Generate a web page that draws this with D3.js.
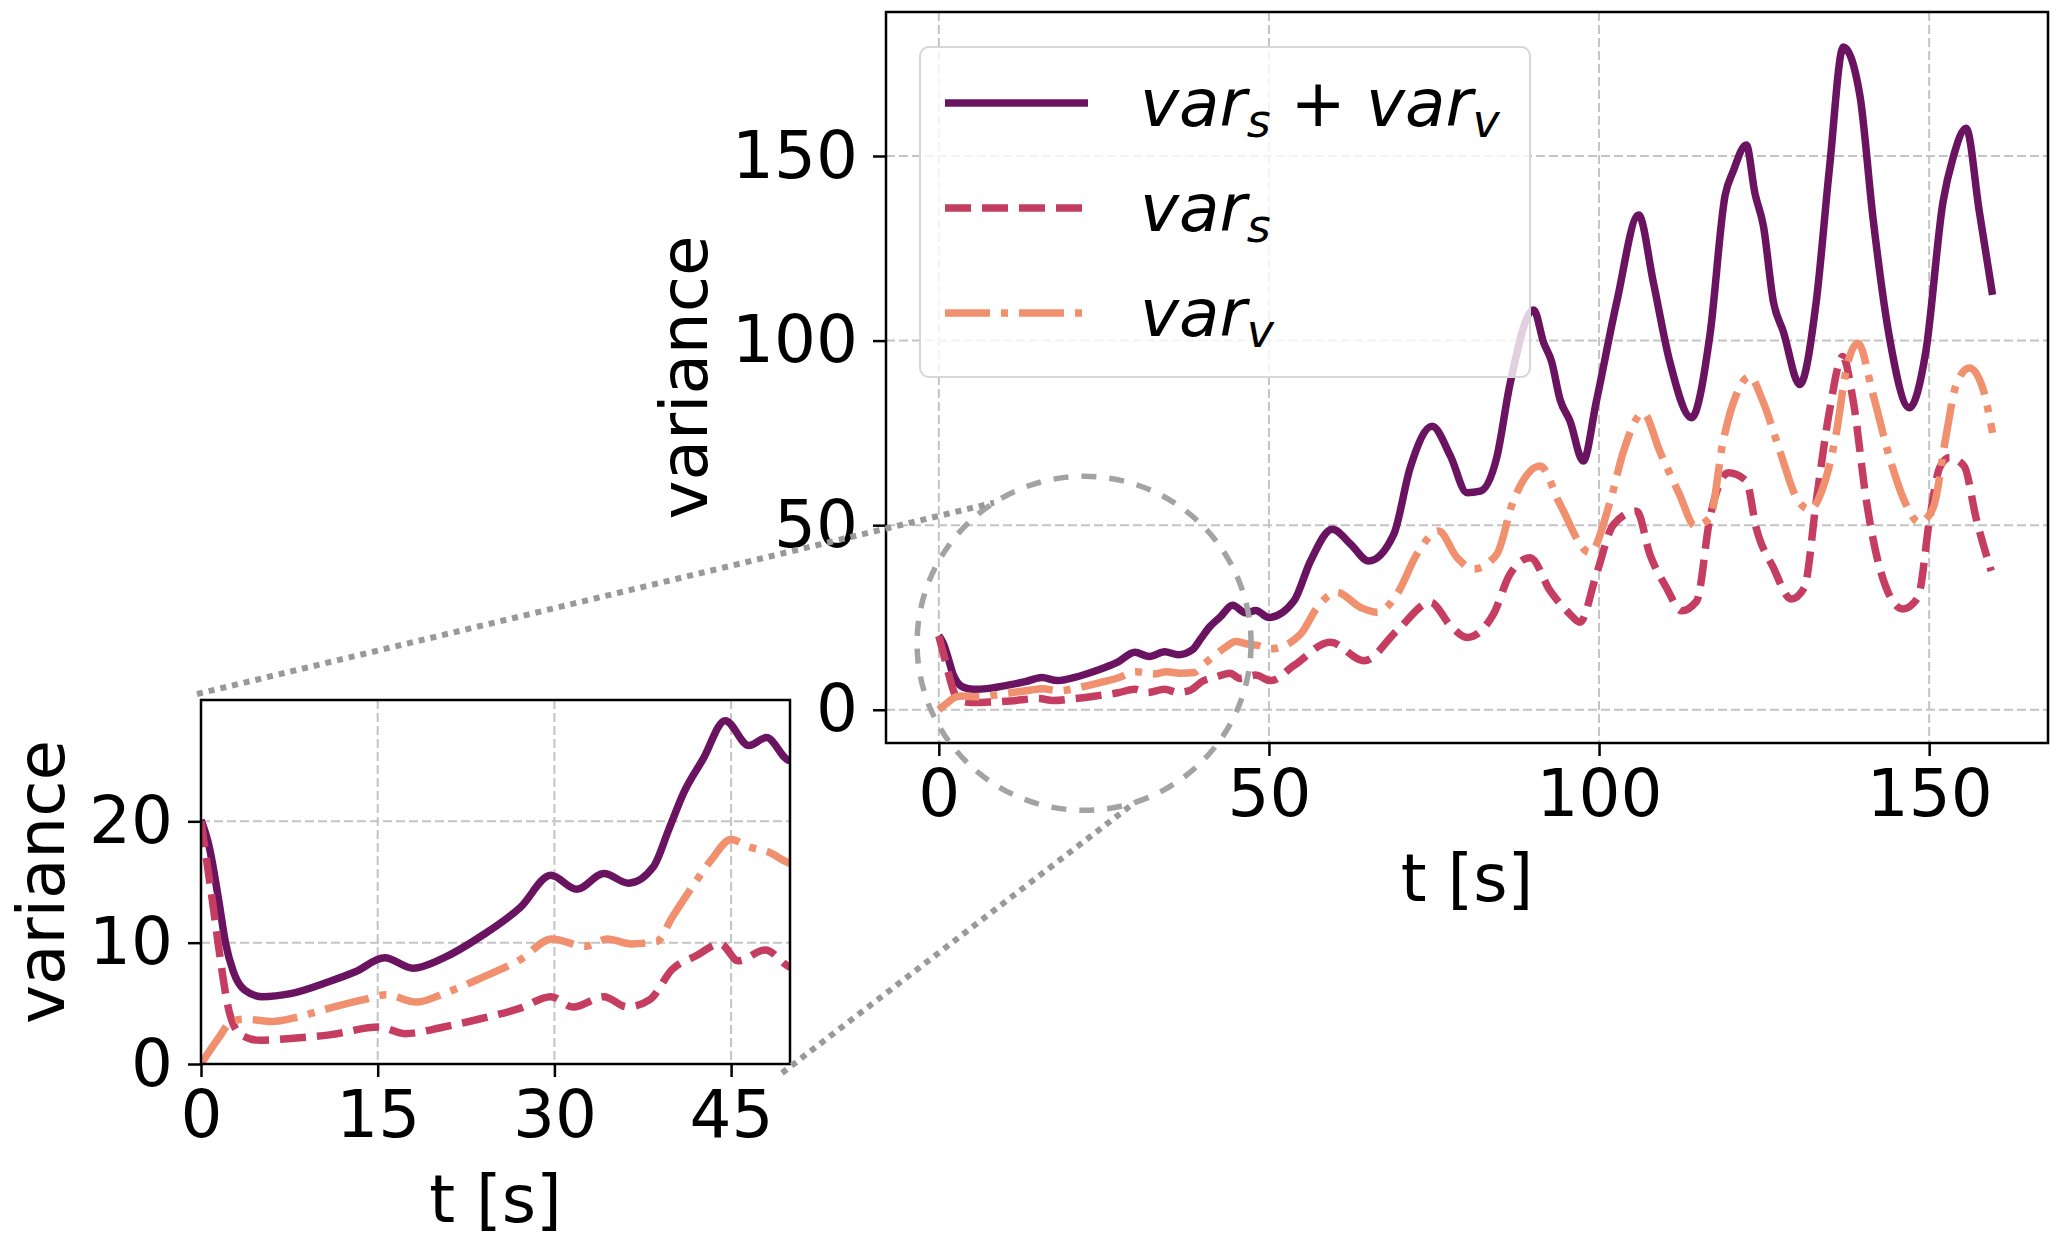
<!DOCTYPE html>
<html>
<head>
<meta charset="utf-8">
<script src="https://cdn.jsdelivr.net/npm/d3@7"></script>
<style>
  body { margin: 0; background: #fff; }
  svg { display: block; font-family: "DejaVu Sans", sans-serif; }
</style>
</head>
<body>
<div id="chart"></div>
<script>
// values
const tTotal = [0, 0.7, 1.46, 2.1, 2.75, 3.7, 5.2, 7.6, 10.9, 13.1, 15.6, 18, 20.6, 23.8, 27.1, 29.7, 31.9, 34.2, 36.3, 38.4, 39.7, 41, 42.6, 44.5, 46.5, 48, 50, 53.8, 56.3, 59.6, 62.4, 65.1, 68.9, 71.4, 74.7, 77.5, 80, 82, 84.5, 86.5, 90.1, 91.6, 92.8, 94.1, 95.6, 97.6, 99.6, 102.7, 106, 108.2, 110.7, 114, 116.8, 119.1, 120.3, 122.3, 123.6, 124.9, 126.4, 127.9, 130.4, 132.9, 134.9, 137, 139.5, 141.5, 144, 147, 149.5, 152.1, 153.6, 155.6, 157.6, 159.6];
const varTotal = [20.1, 17.9, 13.75, 9.9, 7.6, 6.1, 5.55, 5.8, 6.8, 7.6, 8.75, 7.9, 8.75, 10.55, 12.9, 15.55, 14.4, 15.7, 14.9, 16.25, 19.3, 22.4, 25.1, 28.3, 26.25, 26.9, 25.0, 29.5, 40.3, 48.9, 44.8, 40.3, 47.5, 65.6, 76.8, 68.7, 58.8, 59.2, 68.3, 88.1, 108.3, 99.5, 94.4, 84, 78.2, 67.4, 83.6, 110.6, 134, 116, 94.4, 79.1, 101.6, 139.4, 145.8, 153, 140, 131, 110.6, 102.5, 88.1, 110.6, 146.7, 179.5, 166.5, 133.1, 100.7, 81.8, 97.1, 137.6, 149.4, 157.5, 134.9, 112.4];

const tS = [0, 1.1, 1.46, 2.4, 3.4, 5, 7.6, 10.9, 15.1, 17.3, 20.6, 23.8, 27.1, 29.7, 31.6, 34.2, 36.2, 38.1, 40, 42, 44.1, 45.6, 47.9, 50.3, 53.8, 59.3, 64.4, 69.4, 74.5, 77.5, 80, 84, 86.5, 89.6, 92.6, 95.6, 97.1, 99.6, 102.2, 105.7, 107.7, 110.2, 112.5, 114.8, 116.8, 119.6, 122.3, 123.8, 126.4, 129.1, 131.1, 132.9, 134.9, 136.9, 138.5, 140.5, 142.5, 146, 148.3, 150.1, 151.6, 153.1, 155.3, 157.1, 159.4];
const varS = [20, 12.5, 9.9, 4.3, 2.4, 1.95, 2.1, 2.4, 3.05, 2.5, 3.05, 3.75, 4.6, 5.55, 4.7, 5.55, 4.7, 5.3, 7.8, 8.9, 9.9, 8.5, 9.4, 7.9, 12, 18.3, 13.3, 21.4, 29.1, 22.8, 19.6, 25.9, 36.7, 41.2, 32.2, 25.9, 23.7, 36.7, 50.2, 53.8, 42.1, 33.1, 26.8, 29.5, 52, 64.2, 62, 49.3, 38.5, 30, 33.1, 56.5, 80.9, 95.7, 83.6, 56.5, 38.5, 27.3, 30.4, 52, 65.6, 68.3, 66, 52, 37.6];

const tV = [0, 1.46, 2.6, 3.7, 6, 8.3, 10.9, 13.8, 15.7, 18.3, 20.6, 23.8, 27.1, 29.8, 32.6, 34.5, 36.5, 38.7, 40, 41.7, 43.3, 45, 46.5, 48.1, 50.3, 54.8, 57.3, 60.3, 63.9, 66.4, 69.4, 72.4, 75.7, 78.5, 81, 84.5, 87, 91.1, 94.1, 98.6, 101.7, 103.7, 106.7, 109.2, 112.2, 114.5, 116.8, 118.8, 120.8, 122.8, 124.8, 127.4, 129.9, 131.9, 133.9, 135.9, 137.5, 139.2, 141.5, 144, 146.5, 148.5, 150.6, 152.6, 154.1, 156.1, 158.1, 159.6];
const varV = [0, 2.1, 3.5, 3.7, 3.5, 3.9, 4.6, 5.3, 5.7, 5.1, 5.8, 7.1, 8.6, 10.3, 9.7, 10.3, 9.9, 10.1, 12.1, 14.6, 16.8, 18.5, 17.9, 17.5, 16.5, 20.5, 27.7, 31.8, 27.7, 26.4, 31.3, 42.1, 48.4, 41.2, 38.1, 42.1, 56.5, 66, 55.6, 42.6, 56.5, 70, 80.4, 70, 58.3, 49.8, 52.0, 72.8, 85.4, 90.3, 83.6, 70, 57.4, 54.3, 60.1, 74.6, 92.6, 99.3, 85.4, 68.3, 55.6, 50.7, 54.7, 74.6, 88.1, 92.6, 87.2, 75];

const mainXTicks = [0, 50, 100, 150];
const mainYTicks = [0, 50, 100, 150];
const insetXTicks = [0, 15, 30, 45];
const insetYTicks = [0, 10, 20];

// legend labels: [base, subscript] terms joined with "+"
const legendLabels = [[["var", "s"], ["var", "v"]], [["var", "s"]], [["var", "v"]]];
const seriesColors = ["#6a1461", "#c53d61", "#f0906e"];
const seriesDashes = [null, "26,11", "45,11,7,11"];

const width = 2063;
const height = 1245;
const fs = 66;

const series = [
    d3.zip(tTotal, varTotal),
    d3.zip(tS, varS),
    d3.zip(tV, varV)
];

const svg = d3.select("#chart")
    .append("svg")
    .attr("width", width)
    .attr("height", height);

const defs = svg.append("defs");

function drawPanel(box, xDomain, yDomain, xTicks, yTicks, yLabelX, id) {
    const x = d3.scaleLinear().domain(xDomain).range([box.left, box.right]);
    const y = d3.scaleLinear().domain(yDomain).range([box.bottom, box.top]);

    defs.append("clipPath").attr("id", id)
        .append("rect")
        .attr("x", box.left).attr("y", box.top)
        .attr("width", box.right - box.left)
        .attr("height", box.bottom - box.top);

    const g = svg.append("g");

    g.append("rect")
        .attr("x", box.left).attr("y", box.top)
        .attr("width", box.right - box.left)
        .attr("height", box.bottom - box.top)
        .attr("fill", "#fff");

    // GRID
    const grid = g.append("g")
        .attr("stroke", "#c4c4c4")
        .attr("stroke-width", 2)
        .attr("stroke-dasharray", "9,4");
    grid.selectAll(".gx").data(xTicks).enter().append("line")
        .attr("x1", d => x(d)).attr("x2", d => x(d))
        .attr("y1", box.top).attr("y2", box.bottom);
    grid.selectAll(".gy").data(yTicks).enter().append("line")
        .attr("x1", box.left).attr("x2", box.right)
        .attr("y1", d => y(d)).attr("y2", d => y(d));

    // LINES
    const line = d3.line()
        .x(d => x(d[0]))
        .y(d => y(d[1]))
        .curve(d3.curveMonotoneX);

    g.append("g").attr("clip-path", `url(#${id})`)
        .selectAll("path")
        .data(series)
        .enter()
        .append("path")
        .attr("d", line)
        .attr("fill", "none")
        .attr("stroke", (d, i) => seriesColors[i])
        .attr("stroke-width", 7.5)
        .attr("stroke-linejoin", "round")
        .attr("stroke-dasharray", (d, i) => seriesDashes[i]);

    // SPINES
    g.append("rect")
        .attr("x", box.left).attr("y", box.top)
        .attr("width", box.right - box.left)
        .attr("height", box.bottom - box.top)
        .attr("fill", "none")
        .attr("stroke", "#000")
        .attr("stroke-width", 2.5);

    // AXES
    const xAxis = g.append("g")
        .attr("transform", `translate(0,${box.bottom})`)
        .call(d3.axisBottom(x).tickValues(xTicks).tickSize(13).tickPadding(13).tickFormat(d3.format("d")));
    const yAxis = g.append("g")
        .attr("transform", `translate(${box.left},0)`)
        .call(d3.axisLeft(y).tickValues(yTicks).tickSize(13).tickPadding(15).tickFormat(d3.format("d")));

    [xAxis, yAxis].forEach(a => {
        a.select(".domain").remove();
        a.selectAll("line").attr("stroke", "#000").attr("stroke-width", 2.5);
        a.selectAll("text")
            .attr("fill", "#000")
            .style("font-size", fs + "px")
            .style("font-family", "DejaVu Sans");
    });

    g.append("text")
        .attr("x", (box.left + box.right) / 2)
        .attr("y", box.bottom + 158)
        .attr("text-anchor", "middle")
        .style("font-size", fs + "px")
        .text("t [s]");

    g.append("text")
        .attr("transform", `translate(${yLabelX},${(box.top + box.bottom) / 2}) rotate(-90)`)
        .attr("text-anchor", "middle")
        .style("font-size", fs + "px")
        .text("variance");

    return { x, y, g };
}

const main = drawPanel({ left: 886, right: 2048, top: 12, bottom: 743 },
    [-8, 168], [-9, 189], mainXTicks, mainYTicks, 707, "clipMain");

// LEGEND
const leg = main.g.append("g");
leg.append("rect")
    .attr("x", 920).attr("y", 47)
    .attr("width", 610).attr("height", 330)
    .attr("rx", 9)
    .attr("fill", "#fff")
    .attr("fill-opacity", 0.8)
    .attr("stroke", "#d6d6d6")
    .attr("stroke-width", 2);

legendLabels.forEach((parts, i) => {
    const yy = 103 + i * 105;
    leg.append("line")
        .attr("x1", 945).attr("x2", 1088)
        .attr("y1", yy).attr("y2", yy)
        .attr("stroke", seriesColors[i])
        .attr("stroke-width", 7.5)
        .attr("stroke-dasharray", seriesDashes[i]);

    const t = leg.append("text")
        .attr("x", 1140)
        .attr("y", yy + 23)
        .style("font-size", fs + "px");
    parts.forEach((p, k) => {
        if (k > 0) {
            t.append("tspan").attr("dy", -11).attr("dx", 20).text("+");
            t.append("tspan").attr("dx", 20).style("font-style", "italic").text(p[0]);
        } else {
            t.append("tspan").style("font-style", "italic").text(p[0]);
        }
        t.append("tspan")
            .attr("dy", 11)
            .style("font-size", "46px")
            .style("font-style", "italic")
            .text(p[1]);
    });
});

const inset = drawPanel({ left: 201, right: 790, top: 700, bottom: 1064 },
    [0, 50], [0, 30], insetXTicks, insetYTicks, 64, "clipInset");

// ZOOM MARKER
const cx = main.x(22);
const cy = main.y(18);
const r = 167;

svg.append("circle")
    .attr("cx", cx).attr("cy", cy).attr("r", r)
    .attr("fill", "none")
    .attr("stroke", "#a3a3a3")
    .attr("stroke-width", 5.5)
    .attr("stroke-dasharray", "15,13");

const a1 = 237.4 * Math.PI / 180;
const a2 = 72.3 * Math.PI / 180;
const connectors = [
    [inset.x(0) - 4, inset.y(30) - 6, cx + r * Math.cos(a1), cy + r * Math.sin(a1)],
    [inset.x(50) - 8, inset.y(0) + 9, cx + r * Math.cos(a2), cy + r * Math.sin(a2)]
];

svg.selectAll(".conn")
    .data(connectors)
    .enter()
    .append("line")
    .attr("x1", d => d[0]).attr("y1", d => d[1])
    .attr("x2", d => d[2]).attr("y2", d => d[3])
    .attr("stroke", "#999")
    .attr("stroke-width", 6)
    .attr("stroke-dasharray", "6,6");
</script>
</body>
</html>
